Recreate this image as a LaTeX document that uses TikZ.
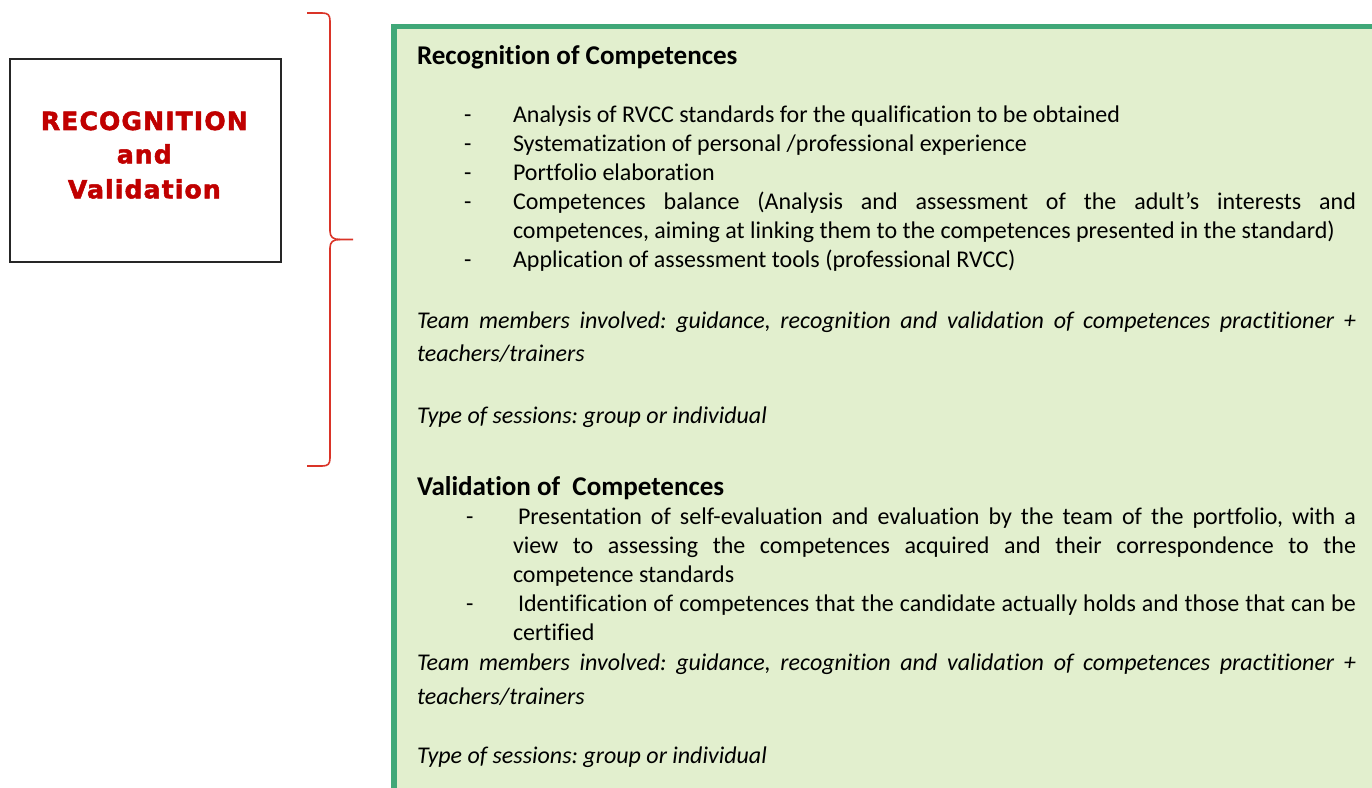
\documentclass[tikz,border=0pt]{standalone}
\usepackage{fontspec}
\setmainfont{Carlito}[Ligatures={NoCommon}]
\newfontfamily\boxfont{DejaVu Sans}[LetterSpace=4.5,FakeBold=2]
\definecolor{vred}{RGB}{192,0,0}
\definecolor{bracered}{RGB}{218,52,40}
\definecolor{gborder}{RGB}{64,168,120}
\definecolor{gfill}{RGB}{226,239,206}
\newcommand{\jst}[2]{\makebox[#1][s]{#2}}
\frenchspacing
\tikzset{
  body/.style={anchor=base west, inner sep=0pt, outer sep=0pt, text=black, font=\fontsize{18}{22}\selectfont},
  ital/.style={body, font=\fontsize{18}{22}\selectfont\itshape},
  head/.style={body, font=\fontsize{20.3}{24}\selectfont\bfseries},
  dashmark/.style={body},
  boxtxt/.style={anchor=base, inner sep=0pt, text=vred, font=\boxfont\bfseries\fontsize{18.8}{22}\selectfont},
  titlebox/.style={draw=black!85, line width=1.5pt, minimum width=203pt, minimum height=151.8pt, inner sep=0pt},
  panel/.style={draw=gborder, fill=gfill, line width=3.8pt},
  brace/.style={draw=bracered, line width=1.2pt}
}
\begin{document}
\begin{tikzpicture}[x=0.75pt,y=-0.75pt]
\useasboundingbox (0,0) rectangle (1372,788);
\clip (0,0) rectangle (1372,788);
\fill[white] (0,0) rectangle (1372,788);
% title box
\node[titlebox] (tb) at (145.35,160.5) {};
\node[boxtxt] (t1) at (144.3,130) {RECOGNITION};
\node[boxtxt] (t2) at (144.3,163.3) {and};
\node[boxtxt] (t3) at (144.3,198.3) {Validation};
% brace
\draw[brace] (307,13) -- (322,13) .. controls (328,13) and (330,15) .. (330,21)
  -- (330,231) .. controls (330,237) and (333,239.5) .. (340,239.5) -- (353,239.5);
\draw[brace] (340,239.5) .. controls (333,239.5) and (330,242) .. (330,248)
  -- (330,458) .. controls (330,464) and (328,466) .. (322,466) -- (307,466);
% panel
\path[panel] (394,26.5) rectangle (1400,820);
% Recognition section
\node[head] (h1) at (417,65) {Recognition of Competences};
\node[dashmark] (d1) at (464,122.6) {-};
\node[body] (l1) at (513,122.6) {Analysis of RVCC standards for the qualification to be obtained};
\node[dashmark] (d2) at (464,151.5) {-};
\node[body] (l2) at (513,151.5) {Systematization of personal /professional experience};
\node[dashmark] (d3) at (464,180.5) {-};
\node[body] (l3) at (513,180.5) {Portfolio elaboration};
\node[dashmark] (d4) at (464,209.4) {-};
\node[body] (l4) at (513,209.4) {\jst{632.25pt}{Competences balance (Analysis and assessment of the adult’s interests and}};
\node[body] (l4b) at (513,238.3) {competences, aiming at linking them to the competences presented in the standard)};
\node[dashmark] (d5) at (464,267.2) {-};
\node[body] (l5) at (513,267.2) {Application of assessment tools (professional RVCC)};
\node[ital] (tm1) at (417,328.5) {\jst{704.25pt}{Team members involved: guidance, recognition and validation of competences practitioner +}};
\node[ital] (tt1) at (417,361.5) {teachers/trainers};
\node[ital] (ty1) at (417,423) {Type of sessions: group or individual};
% Validation section
\node[head] (h2) at (417,495.5) {Validation of\ \ Competences};
\node[dashmark] (e1) at (466,524) {-};
\node[body] (v1) at (518,524) {\jst{628.5pt}{Presentation of self-evaluation and evaluation by the team of the portfolio, with a}};
\node[body] (v1b) at (513,553) {\jst{632.25pt}{view to assessing the competences acquired and their correspondence to the}};
\node[body] (v1c) at (513,582.3) {competence standards};
\node[dashmark] (e2) at (466,611.7) {-};
\node[body] (v2) at (518,611.7) {\jst{628.5pt}{Identification of competences that the candidate actually holds and those that can be}};
\node[body] (v2b) at (513,640.7) {certified};
\node[ital] (tm2) at (417,670) {\jst{704.25pt}{Team members involved: guidance, recognition and validation of competences practitioner +}};
\node[ital] (tt2) at (417,704.5) {teachers/trainers};
\node[ital] (ty2) at (417,763.3) {Type of sessions: group or individual};
\end{tikzpicture}
\end{document}
